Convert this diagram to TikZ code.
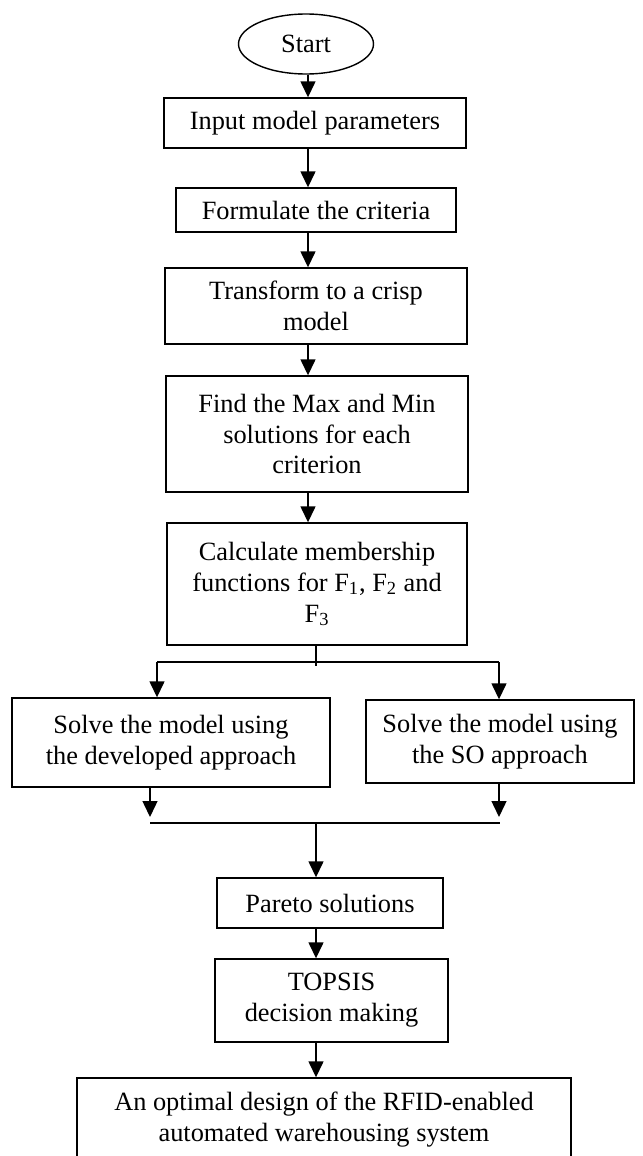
\documentclass[tikz,border=0pt]{standalone}
\usepackage{fontspec}
\setmainfont{Liberation Serif}
\usetikzlibrary{shapes.geometric,arrows.meta}

\begin{document}
\begin{tikzpicture}[line width=0.8pt, >={Triangle[width=0.3cm,length=0.32cm]}, every node/.style={rectangle, align=center, inner sep=0pt, font=\fontsize{15}{17.6}\selectfont}]
	\useasboundingbox (0,0) rectangle (12.84,-23.12);

	\node[draw, ellipse, minimum width=2.7cm, minimum height=1.2cm] (start) at (6.12,-0.88) {Start};

	\node[draw, minimum width=6.04cm, minimum height=1.0cm] (input) at (6.30,-2.46) {Input model parameters};
	\node[draw, minimum width=5.6cm, minimum height=0.88cm] (formulate) at (6.32,-4.20) {Formulate the criteria};
	\node[draw, minimum width=6.04cm, minimum height=1.52cm] (transform) at (6.32,-6.12) {Transform to a crisp\\model};
	\node[draw, minimum width=6.04cm, minimum height=2.32cm] (find) at (6.34,-8.68) {Find the Max and Min\\solutions for each\\criterion};
	\node[draw, minimum width=6.0cm, minimum height=2.44cm] (calc) at (6.34,-11.68) {Calculate membership\\functions for F\textsubscript{1}, F\textsubscript{2} and\\F\textsubscript{3}};

	\node[draw, minimum width=6.36cm, minimum height=1.78cm] (solveDev) at (3.42,-14.85) {Solve the model using\\the developed approach};
	\node[draw, minimum width=5.36cm, minimum height=1.66cm] (solveSO) at (10.0,-14.83) {Solve the model using\\the SO approach};

	\node[draw, minimum width=4.52cm, minimum height=1.0cm] (pareto) at (6.60,-18.06) {Pareto solutions};
	\node[draw, minimum width=4.66cm, minimum height=1.66cm] (topsis) at (6.63,-20.01) {TOPSIS\\decision making};
	\node[draw, minimum width=9.88cm, minimum height=1.68cm] (design) at (6.48,-22.40) {An optimal design of the RFID-enabled\\automated warehousing system};

	\coordinate (axis) at (6.16,0);
	\coordinate (stem) at (6.32,0);
	\coordinate (stubEnd) at (6.32,-13.32);
	\coordinate (splitL) at (3.14,-13.24);
	\coordinate (splitR) at (9.98,-13.24);
	\coordinate (tipL) at (3.0,-16.34);
	\coordinate (tipR) at (9.98,-16.34);
	\coordinate (mergeL) at (3.0,-16.46);
	\coordinate (mergeR) at (10.0,-16.46);
	\coordinate (mergeM) at (6.32,-16.46);

	\draw[->] (start.south -| axis) -- (input.north -| axis);
	\draw[->] (input.south -| axis) -- (formulate.north -| axis);
	\draw[->] (formulate.south -| axis) -- (transform.north -| axis);
	\draw[->] (transform.south -| axis) -- (find.north -| axis);
	\draw[->] (find.south -| axis) -- (calc.north -| axis);

	\draw (calc.south -| stem) -- (stubEnd);
	\draw (splitL) -- (splitR);
	\draw[->] (splitL) -- (splitL |- solveDev.north);
	\draw[->] (splitR) -- (splitR |- solveSO.north);

	\draw[->] (solveDev.south -| tipL) -- (tipL);
	\draw[->] (solveSO.south -| tipR) -- (tipR);
	\draw (mergeL) -- (mergeR);
	\draw[->] (mergeM) -- (mergeM |- pareto.north);

	\draw[->] (pareto.south -| stem) -- (topsis.north -| stem);
	\draw[->] (topsis.south -| stem) -- (design.north -| stem);
\end{tikzpicture}
\end{document}
